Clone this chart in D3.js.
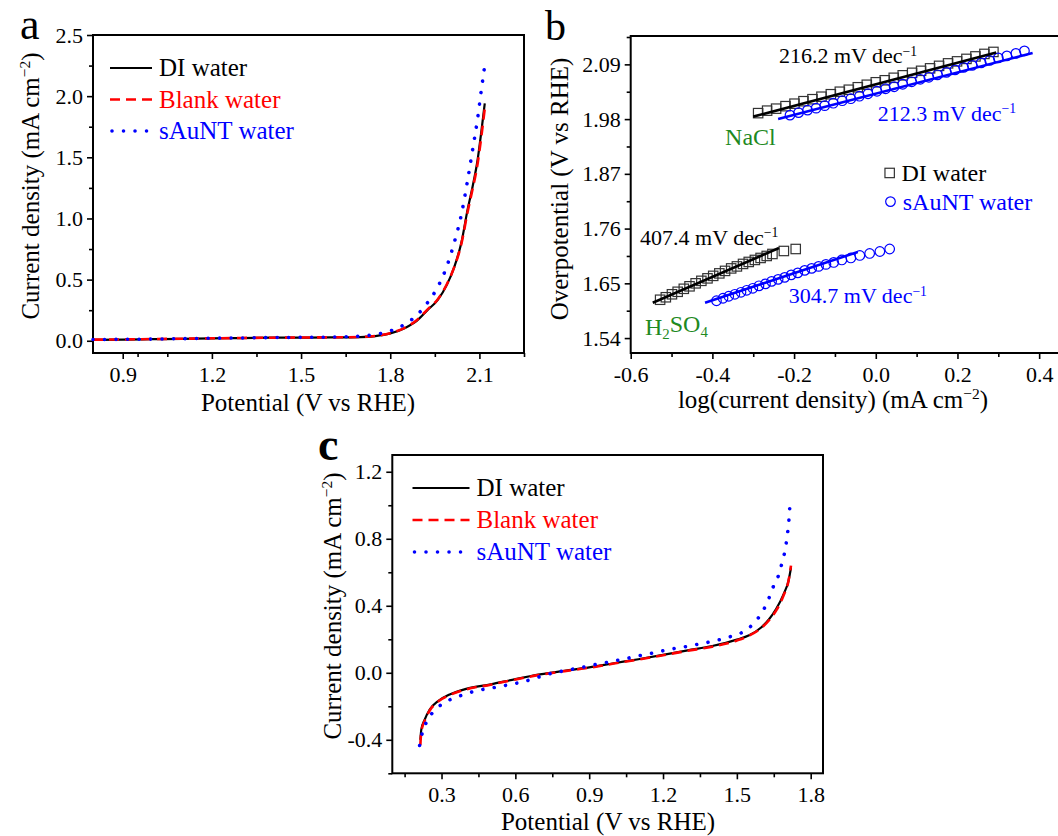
<!DOCTYPE html>
<html><head><meta charset="utf-8">
<script src="https://cdn.jsdelivr.net/npm/d3@7"></script>
<style>
body{margin:0;background:#fff}
text{font-family:"Liberation Serif","Times New Roman",serif}
</style>
</head><body>
<svg id="chart" width="1058" height="836"></svg>
<script>
// ---------------- Panel a data (LSV) ----------------
const aPotential = [0.80,0.90,1.00,1.10,1.20,1.30,1.40,1.50,1.60,1.70,1.75,1.80,1.85,1.89,1.925,1.96,1.99,2.015,2.04,2.06,2.077,2.094,2.107,2.118];
const aDI     = [0.008,0.010,0.013,0.016,0.020,0.022,0.025,0.026,0.027,0.030,0.038,0.060,0.105,0.165,0.250,0.335,0.455,0.600,0.810,1.07,1.26,1.48,1.72,1.94];
const aBlank  = [0.009,0.011,0.014,0.017,0.020,0.023,0.025,0.027,0.028,0.031,0.040,0.062,0.108,0.170,0.255,0.340,0.460,0.600,0.800,1.05,1.24,1.45,1.68,1.90];
const aSAuNT  = [0.010,0.012,0.014,0.017,0.021,0.023,0.026,0.028,0.030,0.038,0.052,0.080,0.137,0.210,0.310,0.440,0.606,0.800,1.04,1.31,1.56,1.82,2.06,2.25];
const aXTicks = [0.9,1.2,1.5,1.8,2.1];
const aXMinor = [0.95,1.05,1.35,1.65,1.95,2.25];
const aYTicks = [0.0,0.5,1.0,1.5,2.0,2.5];
const aYMinor = [0.25,0.75,1.25,1.75,2.25];

// ---------------- Panel b data (Tafel) ----------------
const bNaClDI_x = [-0.288,-0.266,-0.244,-0.221,-0.199,-0.177,-0.155,-0.133,-0.110,-0.088,-0.066,-0.044,-0.022,0.000,0.022,0.044,0.066,0.089,0.111,0.133,0.155,0.177,0.199,0.222,0.244,0.266,0.288];
const bNaClDI_y = [1.992,1.997,2.001,2.006,2.011,2.016,2.020,2.025,2.030,2.035,2.039,2.044,2.049,2.054,2.058,2.063,2.068,2.073,2.077,2.082,2.087,2.092,2.096,2.101,2.106,2.111,2.115];
const bNaClAu_x = [-0.210,-0.189,-0.167,-0.146,-0.125,-0.104,-0.082,-0.061,-0.040,-0.019,0.003,0.024,0.045,0.066,0.088,0.109,0.130,0.151,0.173,0.194,0.215,0.236,0.258,0.279,0.300,0.321,0.343,0.364];
const bNaClAu_y = [1.988,1.993,1.998,2.002,2.007,2.012,2.017,2.021,2.026,2.031,2.036,2.041,2.045,2.050,2.055,2.060,2.064,2.069,2.074,2.079,2.084,2.088,2.093,2.098,2.103,2.107,2.112,2.117];
const bH2SO4DI_x = [-0.528,-0.514,-0.499,-0.485,-0.470,-0.456,-0.441,-0.427,-0.412,-0.398,-0.383,-0.369,-0.354,-0.340,-0.325,-0.311,-0.296,-0.282,-0.267,-0.253,-0.225,-0.196];
const bH2SO4DI_y = [1.617,1.622,1.628,1.633,1.639,1.644,1.650,1.655,1.660,1.665,1.670,1.675,1.680,1.684,1.689,1.693,1.697,1.701,1.705,1.709,1.715,1.719];
const bH2SO4Au_x = [-0.390,-0.374,-0.360,-0.345,-0.330,-0.316,-0.301,-0.286,-0.270,-0.255,-0.239,-0.223,-0.207,-0.191,-0.174,-0.157,-0.140,-0.122,-0.103,-0.083,-0.061,-0.039,-0.015,0.010,0.034];
const bH2SO4Au_y = [1.615,1.620,1.624,1.628,1.632,1.636,1.640,1.645,1.649,1.654,1.658,1.662,1.667,1.671,1.676,1.680,1.684,1.688,1.692,1.697,1.701,1.706,1.710,1.714,1.719];
const bFitNaClDI_x = [-0.300,0.295], bFitNaClDI_y = [1.985,2.114];
const bFitNaClAu_x = [-0.239,0.384], bFitNaClAu_y = [1.980,2.113];
const bFitH2SO4DI_x = [-0.546,-0.237], bFitH2SO4DI_y = [1.611,1.721];
const bFitH2SO4Au_x = [-0.418,-0.044], bFitH2SO4Au_y = [1.611,1.713];
const bXTicks = [-0.6,-0.4,-0.2,0.0,0.2,0.4];
const bXMinor = [-0.5,-0.3,-0.1,0.1,0.3];
const bYTicks = [1.54,1.65,1.76,1.87,1.98,2.09];
const bYMinor = [1.595,1.705,1.815,1.925,2.035,2.145];
const bSlopes = ["216.2","212.3","407.4","304.7"];

// ---------------- Panel c data ----------------
const cPotential = [0.214,0.218,0.232,0.252,0.286,0.333,0.40,0.50,0.60,0.70,0.80,0.90,1.00,1.10,1.20,1.30,1.40,1.50,1.55,1.60,1.63,1.66,1.69,1.71,1.72];
const cDI    = [-0.400,-0.338,-0.278,-0.219,-0.169,-0.130,-0.096,-0.069,-0.038,-0.010,0.012,0.032,0.057,0.081,0.107,0.134,0.160,0.198,0.224,0.272,0.318,0.382,0.470,0.550,0.627];
const cBlank = [-0.430,-0.350,-0.285,-0.225,-0.172,-0.133,-0.099,-0.071,-0.040,-0.012,0.010,0.030,0.055,0.079,0.105,0.131,0.156,0.193,0.222,0.268,0.312,0.372,0.462,0.550,0.640];
const cPotentialAu = [0.211,0.222,0.243,0.279,0.329,0.378,0.428,0.48,0.53,0.578,0.63,0.677,0.728,0.778,0.827,0.877,0.927,0.976,1.026,1.077,1.126,1.176,1.223,1.274,1.323,1.373,1.423,1.472,1.523,1.573,1.608,1.631,1.65,1.672,1.685,1.697,1.704,1.710,1.717];
const cSAuNT = [-0.434,-0.358,-0.283,-0.215,-0.165,-0.136,-0.113,-0.096,-0.084,-0.070,-0.054,-0.034,-0.010,0.006,0.020,0.034,0.050,0.063,0.078,0.093,0.109,0.123,0.139,0.151,0.165,0.179,0.195,0.215,0.242,0.302,0.374,0.448,0.521,0.593,0.666,0.740,0.812,0.885,1.030];
const cXTicks = [0.3,0.6,0.9,1.2,1.5,1.8];
const cXMinor = [0.15,0.45,0.75,1.05,1.35,1.65];
const cYTicks = [-0.4,0.0,0.4,0.8,1.2];
const cYMinor = [-0.6,-0.2,0.2,0.6,1.0];

const seriesNames = ["DI water","Blank water","sAuNT water"];
const seriesColors = ["#000000","#ff0000","#0000ff"];

// ---------------- drawing ----------------
const svg = d3.select("#chart");
svg.append("rect").attr("width",1058).attr("height",836).attr("fill","#fff");

const FONT_TICK = 22, FONT_TITLE = 25;
const DASHES = [null,"10 6","0.01 11.5"];
const WIDTHS = [2.2,2.6,3.6];
const CAPS = ["butt","butt","round"];

function makeFrame(o){
  const x = d3.scaleLinear().domain(o.xDomain).range([o.left,o.right]);
  const y = d3.scaleLinear().domain(o.yDomain).range([o.bottom,o.top]);
  const g = svg.append("g");
  const fmtX = d => d.toFixed(o.xDec), fmtY = d => d.toFixed(o.yDec);
  const style = sel => { sel.select(".domain").remove();
    sel.attr("font-family",null);
    sel.selectAll(".tick line").attr("stroke","#000").attr("stroke-width",1.6);
    sel.selectAll(".tick text").attr("fill","#000").attr("font-size",FONT_TICK)
       .style("font-family","'Liberation Serif',serif"); };
  g.append("g").attr("transform",`translate(0,${o.bottom})`)
    .call(d3.axisBottom(x).tickValues(o.xMinor).tickSize(4).tickFormat("")).call(style);
  g.append("g").attr("transform",`translate(0,${o.bottom})`)
    .call(d3.axisBottom(x).tickValues(o.xTicks).tickSize(6).tickPadding(7).tickFormat(fmtX)).call(style);
  g.append("g").attr("transform",`translate(${o.left},0)`)
    .call(d3.axisLeft(y).tickValues(o.yMinor).tickSize(4).tickFormat("")).call(style);
  g.append("g").attr("transform",`translate(${o.left},0)`)
    .call(d3.axisLeft(y).tickValues(o.yTicks).tickSize(6).tickPadding(4).tickFormat(fmtY)).call(style);
  g.append("rect").attr("x",o.left).attr("y",o.top)
    .attr("width",o.right-o.left).attr("height",o.bottom-o.top)
    .attr("fill","none").attr("stroke","#000").attr("stroke-width",2);
  return {x,y,g};
}

function sup(textSel, base, supTxt, after){
  textSel.append("tspan").text(base);
  textSel.append("tspan").attr("dy","-0.55em").attr("font-size","0.62em").text(supTxt);
  textSel.append("tspan").attr("dy","0.34em").text(after||"");
}

function drawLines(P, xs, series, xsAlt){
  series.forEach((vals,i)=>{
    const px = (i===2 && xsAlt) ? xsAlt : xs;
    const line = d3.line().x((d,k)=>P.x(px[k])).y(d=>P.y(d)).curve(d3.curveMonotoneX);
    P.g.append("path").datum(vals).attr("d",line).attr("fill","none")
      .attr("stroke",seriesColors[i]).attr("stroke-width",WIDTHS[i])
      .attr("stroke-dasharray",DASHES[i]).attr("stroke-linecap",CAPS[i]);
  });
}

function lineLegend(P, x0, len, y0, dy, fs){
  seriesNames.forEach((n,i)=>{
    const yy = y0 + i*dy;
    P.g.append("line").attr("x1",x0+(i===2?2:0)).attr("x2",x0+len).attr("y1",yy).attr("y2",yy)
      .attr("stroke",seriesColors[i]).attr("stroke-width",WIDTHS[i])
      .attr("stroke-dasharray",DASHES[i]).attr("stroke-linecap",CAPS[i]);
    P.g.append("text").attr("x",x0+len+7).attr("y",yy+8).attr("font-size",fs)
      .attr("fill",seriesColors[i]).text(n);
  });
}

// ---- Panel a ----
const A = makeFrame({left:93,right:524,top:35,bottom:353,xDomain:[0.8,2.25],yDomain:[-0.1,2.5],
  xTicks:aXTicks,xMinor:aXMinor,yTicks:aYTicks,yMinor:aYMinor,xDec:1,yDec:1});
drawLines(A, aPotential, [aDI,aBlank,aSAuNT]);
lineLegend(A, 110, 42, 68, 31.5, 25);
A.g.append("text").attr("x",308).attr("y",411).attr("text-anchor","middle").attr("font-size",FONT_TITLE).text("Potential (V vs RHE)");
sup(A.g.append("text").attr("transform","translate(39,186) rotate(-90)").attr("text-anchor","middle").attr("font-size",FONT_TITLE),
  "Current density (mA cm","\u22122",")");
svg.append("text").attr("x",20).attr("y",39).attr("font-size",44).text("a");

// ---- Panel b ----
const B = makeFrame({left:630.7,right:1080,top:36,bottom:353,xDomain:[-0.6,0.5],yDomain:[1.51,2.147],
  xTicks:bXTicks,xMinor:bXMinor,yTicks:bYTicks,yMinor:bYMinor,xDec:1,yDec:2});
function fit(xs,ys,color){
  B.g.append("line").attr("x1",B.x(xs[0])).attr("x2",B.x(xs[1])).attr("y1",B.y(ys[0])).attr("y2",B.y(ys[1]))
    .attr("stroke",color).attr("stroke-width",2.6);
}
function squares(xs,ys){
  B.g.append("g").selectAll("rect").data(ys).join("rect")
    .attr("x",(d,i)=>B.x(xs[i])-4.7).attr("y",d=>B.y(d)-4.7).attr("width",9.4).attr("height",9.4)
    .attr("fill","none").attr("stroke","#333").attr("stroke-width",1.2);
}
function circles(xs,ys){
  B.g.append("g").selectAll("circle").data(ys).join("circle")
    .attr("cx",(d,i)=>B.x(xs[i])).attr("cy",d=>B.y(d)).attr("r",4.8)
    .attr("fill","none").attr("stroke","#0000ff").attr("stroke-width",1.2);
}
squares(bNaClDI_x,bNaClDI_y); circles(bNaClAu_x,bNaClAu_y);
squares(bH2SO4DI_x,bH2SO4DI_y); circles(bH2SO4Au_x,bH2SO4Au_y);
fit(bFitNaClDI_x,bFitNaClDI_y,"#000"); fit(bFitNaClAu_x,bFitNaClAu_y,"#0000ff");
fit(bFitH2SO4DI_x,bFitH2SO4DI_y,"#000"); fit(bFitH2SO4Au_x,bFitH2SO4Au_y,"#0000ff");
const slopeAnchors = [[-0.237,2.0926,"#000"],[0.005,1.9768,"#0000ff"],[-0.577,1.7273,"#000"],[-0.213,1.6103,"#0000ff"]];
slopeAnchors.forEach((a,i)=>{
  sup(B.g.append("text").attr("x",B.x(a[0])).attr("y",B.y(a[1])).attr("font-size",22).attr("fill",a[2]),
    bSlopes[i]+" mV dec","\u22121","");
});
B.g.append("text").attr("x",B.x(-0.369)).attr("y",B.y(1.9272)).attr("font-size",24).attr("fill","#1f8a1f").text("NaCl");
const h = B.g.append("text").attr("x",B.x(-0.565)).attr("y",B.y(1.5466)).attr("font-size",24).attr("fill","#1f8a1f");
h.append("tspan").text("H");
h.append("tspan").attr("dy","0.3em").attr("font-size","0.62em").text("2");
h.append("tspan").attr("dy","-0.3em").text("SO");
h.append("tspan").attr("dy","0.3em").attr("font-size","0.62em").text("4");
// legend b
B.g.append("rect").attr("x",B.x(0.034)-4.7).attr("y",B.y(1.8718)-4.7).attr("width",9.4).attr("height",9.4)
  .attr("fill","none").attr("stroke","#333").attr("stroke-width",1.2);
B.g.append("text").attr("x",B.x(0.063)).attr("y",B.y(1.8718)+8).attr("font-size",24).text("DI water");
B.g.append("circle").attr("cx",B.x(0.036)).attr("cy",B.y(1.8142)).attr("r",4.8)
  .attr("fill","none").attr("stroke","#0000ff").attr("stroke-width",1.2);
B.g.append("text").attr("x",B.x(0.066)).attr("y",B.y(1.8142)+8).attr("font-size",24).attr("fill","#0000ff").text("sAuNT water");
sup(B.g.append("text").attr("x",833).attr("y",408).attr("text-anchor","middle").attr("font-size",FONT_TITLE),
  "log(current density) (mA cm","\u22122",")");
B.g.append("text").attr("transform","translate(568,189) rotate(-90)").attr("text-anchor","middle").attr("font-size",FONT_TITLE).text("Overpotential (V vs RHE)");
svg.append("text").attr("x",545).attr("y",40).attr("font-size",42).text("b");

// ---- Panel c ----
const C = makeFrame({left:392.3,right:823,top:455,bottom:773.3,xDomain:[0.1,1.85],yDomain:[-0.6,1.3],
  xTicks:cXTicks,xMinor:cXMinor,yTicks:cYTicks,yMinor:cYMinor,xDec:1,yDec:1});
drawLines(C, cPotential, [cDI,cBlank,cSAuNT], cPotentialAu);
lineLegend(C, 412.5, 57, 488, 32, 25);
C.g.append("text").attr("x",608).attr("y",830).attr("text-anchor","middle").attr("font-size",FONT_TITLE).text("Potential (V vs RHE)");
sup(C.g.append("text").attr("transform","translate(341,606) rotate(-90)").attr("text-anchor","middle").attr("font-size",FONT_TITLE),
  "Current density (mA cm","\u22122",")");
svg.append("text").attr("x",318).attr("y",460).attr("font-size",46).attr("font-weight","bold").text("c");
</script>
</body></html>
